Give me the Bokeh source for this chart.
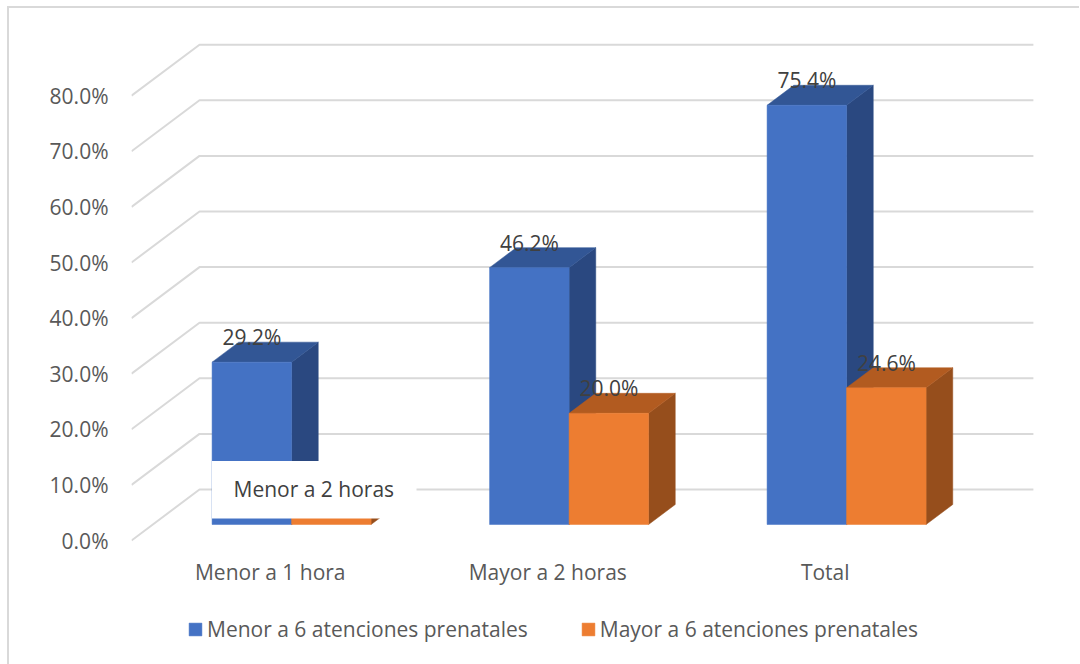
from bokeh.embed import file_html
from bokeh.models import (BoxAnnotation, FixedTicker, Label, Legend, LegendItem,
                          LinearAxis, Range1d)
from bokeh.plotting import figure
from bokeh.resources import INLINE
from bokeh.core.properties import value

# Chart data (percent)
categories = ["Menor a 1 hora", "Mayor a 2 horas", "Total"]
menor_6 = [29.2, 46.2, 75.4]
mayor_6 = [4.6, 20.0, 24.6]
series_names = ["Menor a 6 atenciones prenatales", "Mayor a 6 atenciones prenatales"]
y_ticks = [0, 10, 20, 30, 40, 50, 60, 70, 80]
overlay_text = "Menor a 2 horas"

FONT = "Open Sans"
FONT_PX = "21px"
W, H = 1080, 664
LEFT = 131
BASE_PX = 540          # page row of the 0% tick on the front plane
CAT_PX, VAL_PX = 277.5, 5.56
DEPTH_X, DEPTH_Y = 68 / CAT_PX, 51 / VAL_PX   # oblique depth vector, in data units

# The frame runs to the bottom of the page so category labels and legend can live inside it
p = figure(width=W, height=H, frame_width=W - LEFT, frame_height=H,
           output_backend="svg", toolbar_location=None,
           x_axis_type=None, y_axis_type=None, min_border_left=LEFT, min_border_right=0,
           min_border_top=0, min_border_bottom=0,
           x_range=Range1d(-0.5, -0.5 + (W - LEFT) / CAT_PX),
           y_range=Range1d(-(H - BASE_PX) / VAL_PX, BASE_PX / VAL_PX))
p.outline_line_color = None
p.grid.visible = False

# Chart border: thin rules on the page element behind a transparent canvas
p.border_fill_color = None
p.background_fill_color = None
p.styles = {
    "background-image": "linear-gradient(#d9d9d9,#d9d9d9),linear-gradient(#d9d9d9,#d9d9d9)",
    "background-size": "2px 657px,1072px 2px",
    "background-position": "7px 7px,7px 6px",
    "background-repeat": "no-repeat",
}

def project(x, y, depth):
    return x + depth * DEPTH_X, y + depth * DEPTH_Y

# Side and back-wall gridlines of the 3D box
gx, gy = [], []
for t in y_ticks:
    x0, y0 = project(-0.5, t, 0)
    x1, y1 = project(-0.5, t, 1)
    x2, y2 = project(2.505, t, 1)
    gx.append([x0, x1, x2])
    gy.append([y0, y1, y2])
p.multi_line(gx, gy, line_color="#d9d9d9", line_width=2)

BAR_W = 79.5 / CAT_PX
D_FRONT, D_BACK = 16 / 51, 36 / 51

def box3d(xl, v, front, top, side):
    xr = xl + BAR_W
    f = [project(xl, 0, D_FRONT), project(xr, 0, D_FRONT), project(xr, v, D_FRONT), project(xl, v, D_FRONT)]
    t = [project(xl, v, D_FRONT), project(xr, v, D_FRONT), project(xr, v, D_BACK), project(xl, v, D_BACK)]
    s = [project(xr, 0, D_FRONT), project(xr, 0, D_BACK), project(xr, v, D_BACK), project(xr, v, D_FRONT)]
    p.patch([q[0] for q in s], [q[1] for q in s], fill_color=side, line_color=side, line_width=0.5)
    p.patch([q[0] for q in t], [q[1] for q in t], fill_color=top, line_color=top, line_width=0.5)
    return p.patch([q[0] for q in f], [q[1] for q in f], fill_color=front, line_color=front, line_width=0.5)

blue_r, orange_r = None, None
for i in range(3):
    # left bar first: the right-hand bar hides the lower part of its side face
    blue_r = box3d(i - BAR_W, menor_6[i], "#4472c4", "#325695", "#2a4880")
    orange_r = box3d(i, mayor_6[i], "#ed7d31", "#b25b20", "#964e1c")

# Value labels (the first orange bar's label sits behind the text box, so it is left out)
lx, ly, lt = [], [], []
for i in range(3):
    xa, ya = project(i - BAR_W / 2, menor_6[i], D_FRONT)
    lx.append(xa); ly.append(ya); lt.append(f"{menor_6[i]:.1f}%")
    if i > 0:
        xb, yb = project(i + BAR_W / 2, mayor_6[i], D_FRONT)
        lx.append(xb); ly.append(yb); lt.append(f"{mayor_6[i]:.1f}%")
p.text(lx, ly, text=lt, text_align="center", text_baseline="middle", y_offset=-25,
       text_color="#404040", text_font=value(FONT), text_font_size=FONT_PX)

# Category labels under the front edge of the floor
p.text(list(range(len(categories))), [(BASE_PX - 571) / VAL_PX] * len(categories), text=categories,
       text_align="center", text_baseline="middle", text_color="#595959",
       text_font=value(FONT), text_font_size=FONT_PX)

# Value axis
yaxis = LinearAxis(ticker=FixedTicker(ticks=y_ticks),
                   major_label_overrides={t: f"{t:.1f}%" for t in y_ticks})
yaxis.axis_line_color = None
yaxis.major_tick_line_color = None
yaxis.minor_tick_line_color = None
yaxis.major_label_text_color = "#595959"
yaxis.major_label_text_font = FONT
yaxis.major_label_text_font_size = FONT_PX
yaxis.major_label_standoff = 17
p.add_layout(yaxis, "left")

# Legend along the bottom of the chart
legend = Legend(items=[LegendItem(label=series_names[0], renderers=[blue_r]),
                       LegendItem(label=series_names[1], renderers=[orange_r])],
                orientation="horizontal", location=(56, 21),
                glyph_width=16, glyph_height=16, spacing=52, padding=0, margin=0,
                label_standoff=4, border_line_color=None, background_fill_alpha=0,
                label_text_color="#595959", label_text_font=FONT, label_text_font_size=FONT_PX)
p.add_layout(legend, "center")

# Text box sitting in front of the first cluster
p.add_layout(BoxAnnotation(left=211.5, right=416, top=460.5, bottom=518,
                           left_units="canvas", right_units="canvas",
                           top_units="canvas", bottom_units="canvas",
                           fill_color="white", fill_alpha=1, line_color=None, level="annotation"))
p.add_layout(Label(x=233 - LEFT, y=H - 488, x_units="screen", y_units="screen", text=overlay_text,
                   text_align="left", text_baseline="middle", text_color="#404040",
                   text_font=FONT, text_font_size=FONT_PX))

open("out.html", "w").write(file_html(p, INLINE))
